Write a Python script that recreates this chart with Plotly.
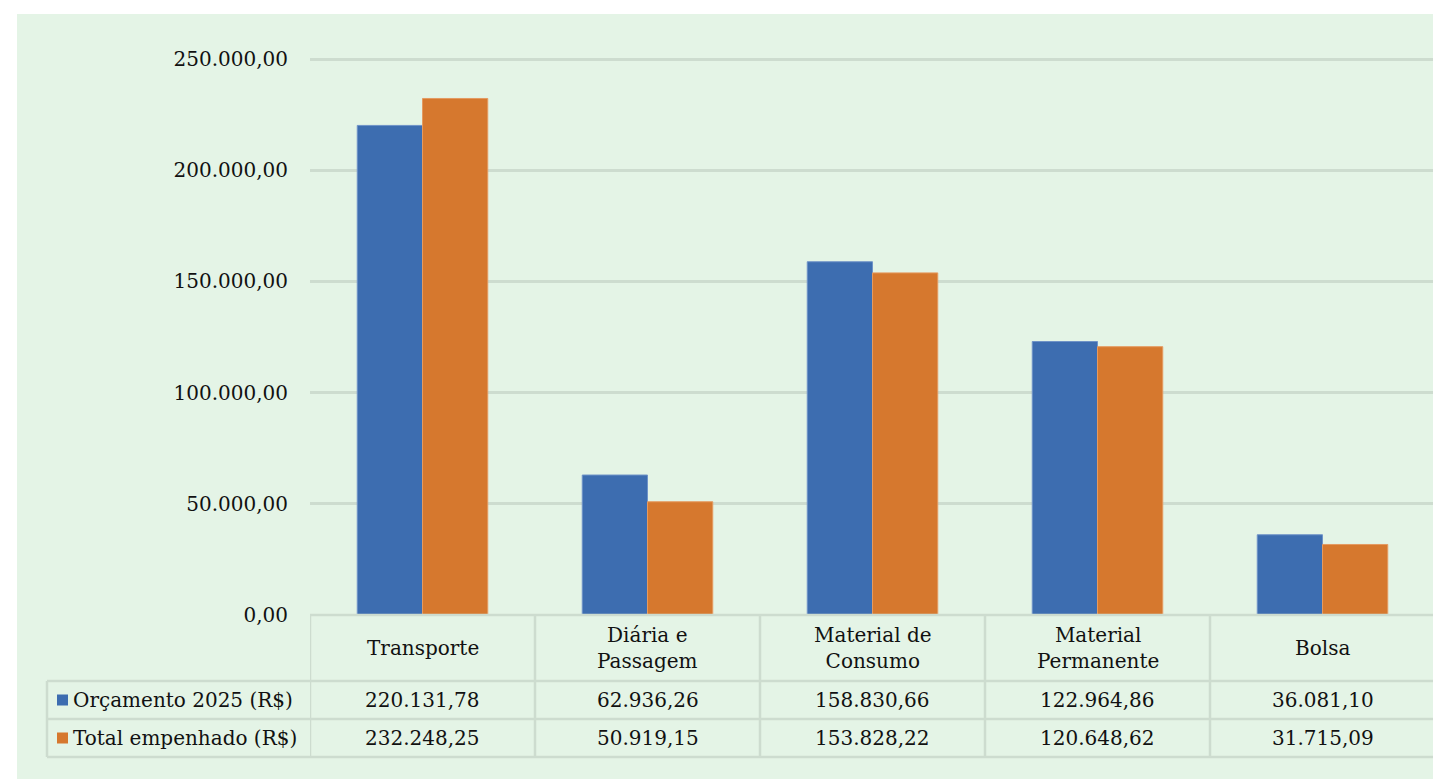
import plotly.graph_objects as go

# data
categorias = ["Transporte", "Diária e<br>Passagem", "Material de<br>Consumo",
              "Material<br>Permanente", "Bolsa"]
series_nomes = ["Orçamento 2025 (R$)", "Total empenhado (R$)"]
orcamento_2025 = [220131.78, 62936.26, 158830.66, 122964.86, 36081.10]
total_empenhado = [232248.25, 50919.15, 153828.22, 120648.62, 31715.09]
y_ticks = [0, 50000, 100000, 150000, 200000, 250000]

AZUL = "#3d6db0"
LARANJA = "#d6782e"
VERDE = "#e4f4e6"
LINHA = "#cddccf"
FONTE = "DejaVu Serif"
TAM = 20

W, H = 1433, 779
L, T, B = 310, 57, 164
PW = W - L
PH = H - T - B
Y_MAX = 250000 * PH / 556  # 250.000 fica em y=59 px


def br(v):
    s = f"{v:,.2f}"
    return s.replace(",", "#").replace(".", ",").replace("#", ".")


def px(x):
    return (x - L) / PW


def py(y):
    return (T + PH - y) / PH


x = list(range(len(categorias)))

fig = go.Figure()
fig.add_bar(x=x, y=orcamento_2025, name=series_nomes[0], marker_color=AZUL,
            marker_line=dict(color="#6f93c8", width=1))
fig.add_bar(x=x, y=total_empenhado, name=series_nomes[1], marker_color=LARANJA,
            marker_line=dict(color="#e59a60", width=1))

shapes = [dict(type="rect", xref="paper", yref="paper", x0=px(17), x1=px(W + 5),
               y0=py(14), y1=py(H + 5), fillcolor=VERDE, line_width=0, layer="below")]
annots = []

# linhas da tabela
lw = 2.5
for yy, x0 in [(615, L), (681, 47), (719, 47), (757, 47)]:
    shapes.append(dict(type="line", xref="paper", yref="paper", x0=px(x0), x1=px(W + 5),
                       y0=py(yy), y1=py(yy), line=dict(color=LINHA, width=lw)))
shapes.append(dict(type="line", xref="paper", yref="paper", x0=px(47), x1=px(47),
                   y0=py(681), y1=py(757), line=dict(color=LINHA, width=lw)))
for k in range(len(categorias) + 1):
    shapes.append(dict(type="line", xref="x", yref="paper", x0=k - 0.5, x1=k - 0.5,
                       y0=py(615), y1=py(757), line=dict(color=LINHA, width=lw)))

# cabeçalho + valores
for i, cat in enumerate(categorias):
    annots.append(dict(x=i, y=py(648), xref="x", yref="paper", text=cat, showarrow=False,
                       font=dict(size=TAM, color="#111"), align="center",
                       yanchor="middle"))
    for row, serie in zip([700, 738], [orcamento_2025, total_empenhado]):
        annots.append(dict(x=i, y=py(row), xref="x", yref="paper", text=br(serie[i]),
                           showarrow=False, font=dict(size=TAM, color="#111"),
                           yanchor="middle"))

# chaves da legenda
for row, nome, cor in zip([700, 738], series_nomes, [AZUL, LARANJA]):
    shapes.append(dict(type="rect", xref="paper", yref="paper", x0=px(57), x1=px(68),
                       y0=py(row - 5.5), y1=py(row + 5.5), fillcolor=cor, line_width=0))
    annots.append(dict(x=px(71), y=py(row), xref="paper", yref="paper", text=nome,
                       showarrow=False, xanchor="left", yanchor="middle",
                       font=dict(size=TAM, color="#111")))

fig.update_layout(
    width=W, height=H,
    margin=dict(l=L, r=0, t=T, b=B),
    paper_bgcolor="white",
    plot_bgcolor=VERDE,
    font=dict(family=FONTE, size=TAM, color="#111"),
    barmode="group",
    bargap=0.42,
    bargroupgap=0,
    showlegend=False,
    shapes=shapes,
    annotations=annots,
    xaxis=dict(range=[-0.5, -0.5 + PW / 225], showticklabels=False, showgrid=False,
               zeroline=False, fixedrange=True),
    yaxis=dict(range=[0, Y_MAX], tickvals=y_ticks, ticktext=[br(v) for v in y_ticks],
               showgrid=True, gridcolor=LINHA, gridwidth=2.5, zeroline=False,
               ticks="outside", ticklen=17, tickcolor="rgba(0,0,0,0)",
               tickfont=dict(size=TAM, color="#111")),
)

fig.write_html("out.html", config={"displayModeBar": False},
               post_script="document.body.style.margin='0px';")
